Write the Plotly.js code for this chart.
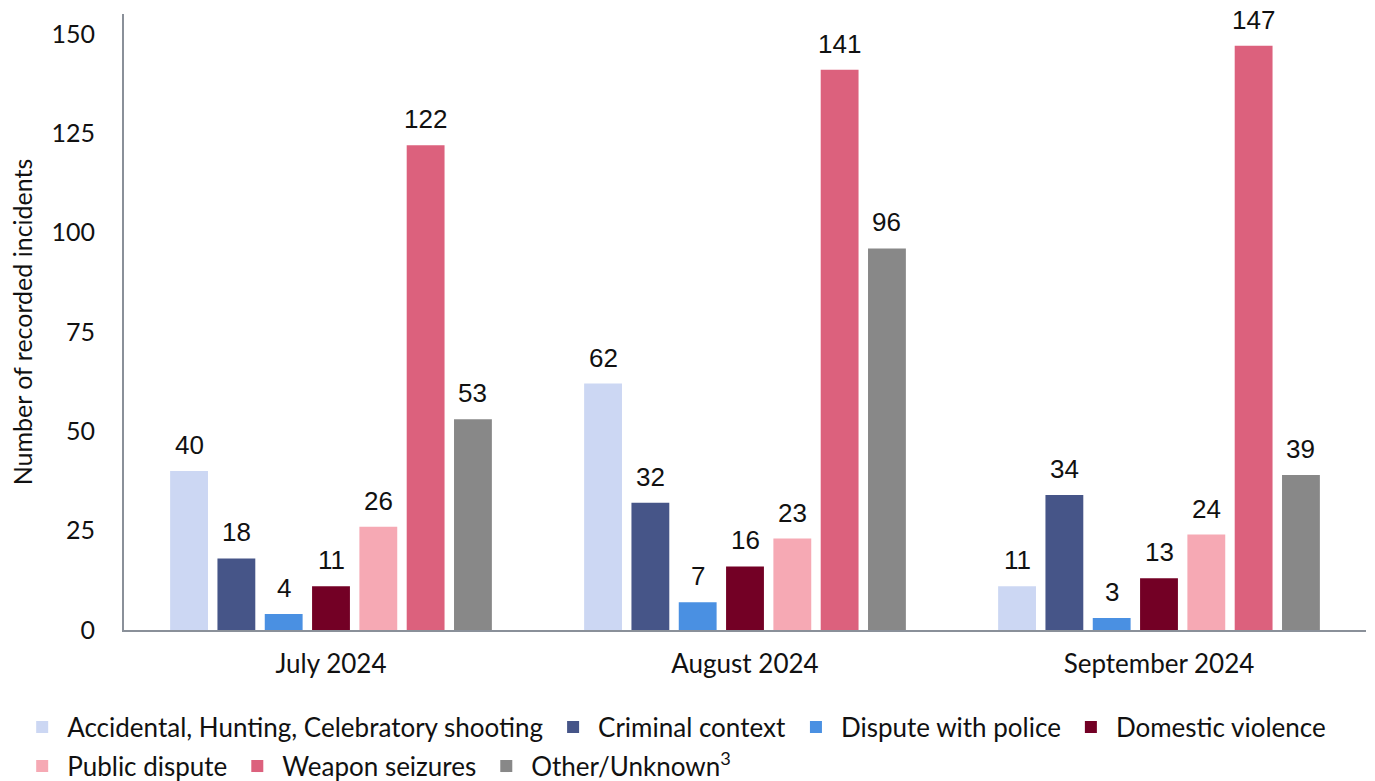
<!DOCTYPE html>
<html>
<head>
<meta charset="utf-8">
<script src="https://cdn.plot.ly/plotly-3.0.1.min.js"></script>
<style>html,body{margin:0;padding:0;background:#fff;}#chart{width:1375px;height:781px;}</style>
</head>
<body>
<div id="chart"></div>
<script>
const months = ["July 2024", "August 2024", "September 2024"];
const seriesNames = ["Accidental, Hunting, Celebratory shooting", "Criminal context", "Dispute with police", "Domestic violence", "Public dispute", "Weapon seizures", "Other/Unknown<sup>3</sup>"];
const accidental = [40, 62, 11];
const criminal = [18, 32, 34];
const disputePolice = [4, 7, 3];
const domestic = [11, 16, 13];
const publicDispute = [26, 23, 24];
const weaponSeizures = [122, 141, 147];
const otherUnknown = [53, 96, 39];
const colors = ["#CCD7F3", "#465588", "#4A90E2", "#730025", "#F6A9B4", "#DC617D", "#888888"];
const legendRow = ["legend", "legend", "legend", "legend", "legend2", "legend2", "legend2"];
const yTicks = [0, 25, 50, 75, 100, 125, 150];

const values = [accidental, criminal, disputePolice, domestic, publicDispute, weaponSeizures, otherUnknown];

const W = 1375, H = 781;
const margin = {l: 124, r: 9, t: 14, b: 151, autoexpand: false};
const bargap = 0.20, bargroupgap = 0.2;
const plotW = W - margin.l - margin.r;
const slotPx = plotW / months.length * (1 - bargap) / values.length;

const traces = values.map((v, i) => ({
  type: "bar",
  name: seriesNames[i],
  legend: legendRow[i],
  x: months,
  y: v,
  marker: {color: colors[i]},
  hoverinfo: "x+y+name"
}));

// value labels above the bars, anchored to each bar's data value
const annotations = [];
values.forEach((v, i) => {
  v.forEach((val, j) => {
    annotations.push({
      x: months[j], y: val, xref: "x", yref: "y",
      text: String(val), showarrow: false,
      xanchor: "center", yanchor: "bottom",
      xshift: (i - (values.length - 1) / 2) * slotPx,
      yshift: 9,
      font: {family: "Liberation Sans, Arial, sans-serif", size: 26, color: "#111"}
    });
  });
});

const legendCommon = {
  orientation: "h",
  xanchor: "left",
  yanchor: "middle",
  font: {size: 26, family: "Lato, sans-serif", color: "#111"},
  itemwidth: 40,
  bgcolor: "rgba(0,0,0,0)"
};

const layout = {
  width: W, height: H,
  margin: margin,
  paper_bgcolor: "#fff", plot_bgcolor: "#fff",
  font: {family: "Lato, sans-serif", size: 25, color: "#111"},
  barmode: "group",
  bargap: bargap,
  bargroupgap: bargroupgap,
  xaxis: {
    showline: true, linecolor: "#8a9099", linewidth: 2,
    ticks: "", tickfont: {size: 26},
    ticklabelstandoff: 10,
    showgrid: false
  },
  yaxis: {
    range: [0, 155],
    tickvals: yTicks,
    ticktext: yTicks.map(String),
    showline: true, linecolor: "#8a9099", linewidth: 2,
    showgrid: false, zeroline: false,
    ticks: "", ticklabelstandoff: 22,
    tickfont: {size: 25},
    title: {text: "Number of recorded incidents", font: {size: 25}, standoff: 12}
  },
  annotations: annotations,
  showlegend: true,
  legend: Object.assign({}, legendCommon, {x: -0.086, y: -0.1575}),
  legend2: Object.assign({}, legendCommon, {x: -0.086, y: -0.221})
};

Plotly.newPlot("chart", traces, layout, {displayModeBar: false, staticPlot: true});
</script>
</body>
</html>
